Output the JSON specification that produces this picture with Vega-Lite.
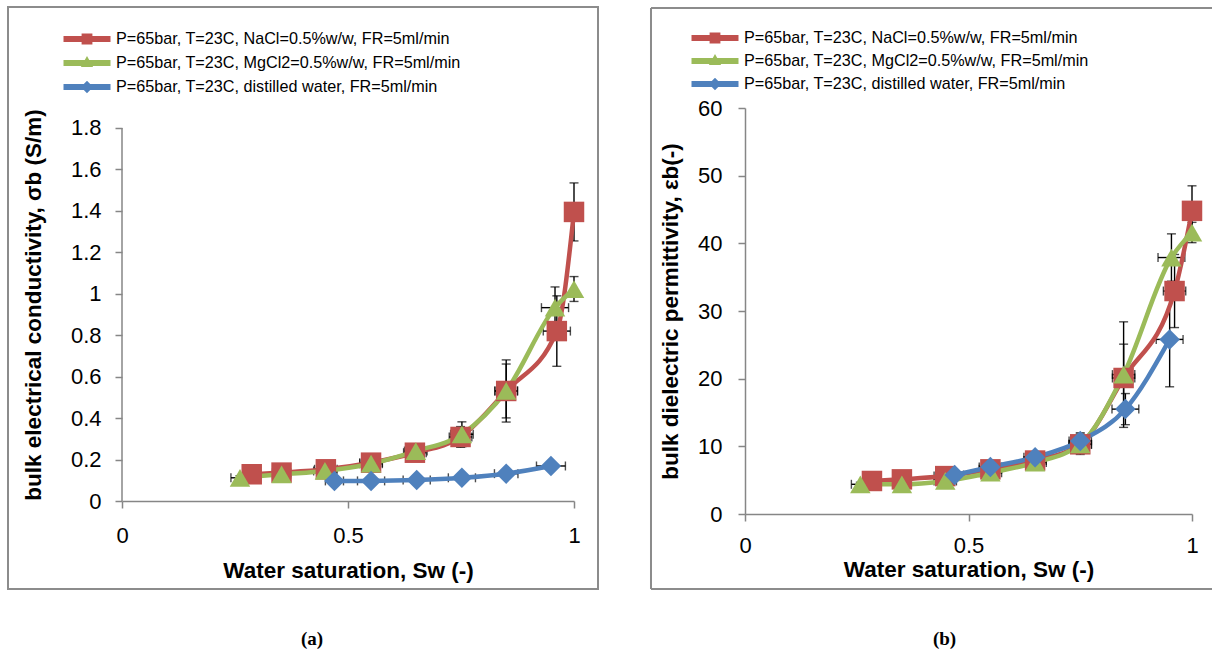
{
  "$schema": "https://vega.github.io/schema/vega-lite/v6.json",
  "background": "white",
  "padding": {"left": 7, "top": 5, "right": 0, "bottom": 0},
  "spacing": 49,
  "datasets": {
    "cond": [
      {"s": "P=65bar, T=23C, NaCl=0.5%w/w, FR=5ml/min", "sw": 0.287, "v": 0.129, "ev": 0.01, "es": 0.02},
      {"s": "P=65bar, T=23C, NaCl=0.5%w/w, FR=5ml/min", "sw": 0.353, "v": 0.137, "ev": 0.01, "es": 0.02},
      {"s": "P=65bar, T=23C, NaCl=0.5%w/w, FR=5ml/min", "sw": 0.451, "v": 0.153, "ev": 0.015, "es": 0.025},
      {"s": "P=65bar, T=23C, NaCl=0.5%w/w, FR=5ml/min", "sw": 0.551, "v": 0.185, "ev": 0.02, "es": 0.025},
      {"s": "P=65bar, T=23C, NaCl=0.5%w/w, FR=5ml/min", "sw": 0.648, "v": 0.233, "ev": 0.03, "es": 0.025},
      {"s": "P=65bar, T=23C, NaCl=0.5%w/w, FR=5ml/min", "sw": 0.749, "v": 0.309, "ev": 0.05, "es": 0.025},
      {"s": "P=65bar, T=23C, NaCl=0.5%w/w, FR=5ml/min", "sw": 0.85, "v": 0.531, "ev": 0.13, "es": 0.025},
      {"s": "P=65bar, T=23C, NaCl=0.5%w/w, FR=5ml/min", "sw": 0.962, "v": 0.82, "ev": 0.17, "es": 0.03},
      {"s": "P=65bar, T=23C, NaCl=0.5%w/w, FR=5ml/min", "sw": 1.0, "v": 1.395, "ev": 0.14, "es": 0},
      {"s": "P=65bar, T=23C, MgCl2=0.5%w/w, FR=5ml/min", "sw": 0.261, "v": 0.112, "ev": 0.01, "es": 0.02},
      {"s": "P=65bar, T=23C, MgCl2=0.5%w/w, FR=5ml/min", "sw": 0.353, "v": 0.129, "ev": 0.01, "es": 0.02},
      {"s": "P=65bar, T=23C, MgCl2=0.5%w/w, FR=5ml/min", "sw": 0.449, "v": 0.145, "ev": 0.015, "es": 0.025},
      {"s": "P=65bar, T=23C, MgCl2=0.5%w/w, FR=5ml/min", "sw": 0.551, "v": 0.18, "ev": 0.02, "es": 0.025},
      {"s": "P=65bar, T=23C, MgCl2=0.5%w/w, FR=5ml/min", "sw": 0.65, "v": 0.241, "ev": 0.03, "es": 0.025},
      {"s": "P=65bar, T=23C, MgCl2=0.5%w/w, FR=5ml/min", "sw": 0.752, "v": 0.322, "ev": 0.06, "es": 0.025},
      {"s": "P=65bar, T=23C, MgCl2=0.5%w/w, FR=5ml/min", "sw": 0.85, "v": 0.531, "ev": 0.15, "es": 0.025},
      {"s": "P=65bar, T=23C, MgCl2=0.5%w/w, FR=5ml/min", "sw": 0.958, "v": 0.933, "ev": 0.1, "es": 0.03},
      {"s": "P=65bar, T=23C, MgCl2=0.5%w/w, FR=5ml/min", "sw": 1.0, "v": 1.023, "ev": 0.06, "es": 0},
      {"s": "P=65bar, T=23C, distilled water, FR=5ml/min", "sw": 0.47, "v": 0.097, "ev": 0.005, "es": 0.02},
      {"s": "P=65bar, T=23C, distilled water, FR=5ml/min", "sw": 0.551, "v": 0.097, "ev": 0.005, "es": 0.03},
      {"s": "P=65bar, T=23C, distilled water, FR=5ml/min", "sw": 0.652, "v": 0.101, "ev": 0.006, "es": 0.03},
      {"s": "P=65bar, T=23C, distilled water, FR=5ml/min", "sw": 0.752, "v": 0.112, "ev": 0.008, "es": 0.03},
      {"s": "P=65bar, T=23C, distilled water, FR=5ml/min", "sw": 0.85, "v": 0.132, "ev": 0.01, "es": 0.026},
      {"s": "P=65bar, T=23C, distilled water, FR=5ml/min", "sw": 0.949, "v": 0.169, "ev": 0.015, "es": 0.032}
    ],
    "perm": [
      {"s": "P=65bar, T=23C, NaCl=0.5%w/w, FR=5ml/min", "sw": 0.284, "v": 4.88, "ev": 0.3, "es": 0.02},
      {"s": "P=65bar, T=23C, NaCl=0.5%w/w, FR=5ml/min", "sw": 0.351, "v": 5.12, "ev": 0.3, "es": 0.02},
      {"s": "P=65bar, T=23C, NaCl=0.5%w/w, FR=5ml/min", "sw": 0.448, "v": 5.6, "ev": 0.4, "es": 0.025},
      {"s": "P=65bar, T=23C, NaCl=0.5%w/w, FR=5ml/min", "sw": 0.549, "v": 6.6, "ev": 0.5, "es": 0.025},
      {"s": "P=65bar, T=23C, NaCl=0.5%w/w, FR=5ml/min", "sw": 0.649, "v": 7.9, "ev": 0.6, "es": 0.025},
      {"s": "P=65bar, T=23C, NaCl=0.5%w/w, FR=5ml/min", "sw": 0.75, "v": 10.3, "ev": 1.2, "es": 0.025},
      {"s": "P=65bar, T=23C, NaCl=0.5%w/w, FR=5ml/min", "sw": 0.847, "v": 20.1, "ev": 5.0, "es": 0.025},
      {"s": "P=65bar, T=23C, NaCl=0.5%w/w, FR=5ml/min", "sw": 0.961, "v": 32.95, "ev": 5.4, "es": 0.025},
      {"s": "P=65bar, T=23C, NaCl=0.5%w/w, FR=5ml/min", "sw": 1.0, "v": 44.8, "ev": 3.7, "es": 0},
      {"s": "P=65bar, T=23C, MgCl2=0.5%w/w, FR=5ml/min", "sw": 0.258, "v": 4.39, "ev": 0.3, "es": 0.02},
      {"s": "P=65bar, T=23C, MgCl2=0.5%w/w, FR=5ml/min", "sw": 0.351, "v": 4.39, "ev": 0.3, "es": 0.02},
      {"s": "P=65bar, T=23C, MgCl2=0.5%w/w, FR=5ml/min", "sw": 0.448, "v": 4.88, "ev": 0.4, "es": 0.025},
      {"s": "P=65bar, T=23C, MgCl2=0.5%w/w, FR=5ml/min", "sw": 0.549, "v": 6.1, "ev": 0.5, "es": 0.025},
      {"s": "P=65bar, T=23C, MgCl2=0.5%w/w, FR=5ml/min", "sw": 0.649, "v": 7.6, "ev": 0.6, "es": 0.025},
      {"s": "P=65bar, T=23C, MgCl2=0.5%w/w, FR=5ml/min", "sw": 0.75, "v": 10.3, "ev": 1.5, "es": 0.025},
      {"s": "P=65bar, T=23C, MgCl2=0.5%w/w, FR=5ml/min", "sw": 0.847, "v": 20.6, "ev": 7.8, "es": 0.025},
      {"s": "P=65bar, T=23C, MgCl2=0.5%w/w, FR=5ml/min", "sw": 0.954, "v": 37.9, "ev": 3.5, "es": 0.03},
      {"s": "P=65bar, T=23C, MgCl2=0.5%w/w, FR=5ml/min", "sw": 1.0, "v": 41.6, "ev": 1.5, "es": 0},
      {"s": "P=65bar, T=23C, distilled water, FR=5ml/min", "sw": 0.469, "v": 5.76, "ev": 0.3, "es": 0.02},
      {"s": "P=65bar, T=23C, distilled water, FR=5ml/min", "sw": 0.549, "v": 6.95, "ev": 0.5, "es": 0.025},
      {"s": "P=65bar, T=23C, distilled water, FR=5ml/min", "sw": 0.649, "v": 8.4, "ev": 0.6, "es": 0.025},
      {"s": "P=65bar, T=23C, distilled water, FR=5ml/min", "sw": 0.75, "v": 10.8, "ev": 1.2, "es": 0.025},
      {"s": "P=65bar, T=23C, distilled water, FR=5ml/min", "sw": 0.851, "v": 15.5, "ev": 2.3, "es": 0.03},
      {"s": "P=65bar, T=23C, distilled water, FR=5ml/min", "sw": 0.95, "v": 25.8, "ev": 7.0, "es": 0.03}
    ]
  },
  "hconcat": [
    {
      "width": 452,
      "height": 393,
      "data": {"name": "cond"},
      "title": {"text": "(a)", "orient": "bottom", "anchor": "middle", "frame": "group", "dx": -36, "offset": 40, "font": "Liberation Serif", "fontSize": 19, "fontWeight": "bold", "color": "black"},
      "resolve": {"scale": {"color": "independent", "shape": "independent"}},
      "layer": [
        {
          "data": {"values": [{}]},
          "mark": {"type": "rect", "fill": "transparent", "stroke": "#8c8c8c", "strokeWidth": 2, "clip": false},
          "encoding": {
            "x": {"datum": -0.2522, "type": "quantitative", "scale": {"domain": [0, 1]}, "title": "Water saturation, Sw (-)"},
            "x2": {"datum": 1.0531},
            "y": {"datum": 2.384, "type": "quantitative", "scale": {"domain": [0, 1.8965], "nice": false}, "title": "bulk electrical conductivity, σb (S/m)"},
            "y2": {"datum": -0.4247}
          }
        },
        {
          "data": {"values": [{}]},
          "mark": {"type": "rule", "stroke": "#868686", "strokeWidth": 1.5},
          "encoding": {
            "x": {"datum": 0, "type": "quantitative", "title": "Water saturation, Sw (-)"},
            "y": {"datum": 0, "type": "quantitative", "title": "bulk electrical conductivity, σb (S/m)"},
            "y2": {"datum": 1.8}
          }
        },
        {
          "mark": {"type": "errorbar", "color": "black", "thickness": 1.4, "ticks": {"size": 9, "thickness": 1.4, "color": "black"}},
          "encoding": {
            "x": {"field": "sw", "type": "quantitative", "title": "Water saturation, Sw (-)"},
            "y": {"field": "v", "type": "quantitative", "title": "bulk electrical conductivity, σb (S/m)"},
            "yError": {"field": "ev"}
          }
        },
        {
          "mark": {"type": "errorbar", "color": "black", "thickness": 1.4, "ticks": {"size": 9, "thickness": 1.4, "color": "black"}},
          "encoding": {
            "x": {"field": "sw", "type": "quantitative", "title": "Water saturation, Sw (-)"},
            "xError": {"field": "es"},
            "y": {"field": "v", "type": "quantitative", "title": "bulk electrical conductivity, σb (S/m)"}
          }
        },
        {
          "mark": {"type": "line", "strokeWidth": 4.5, "interpolate": "monotone"},
          "encoding": {
            "x": {"field": "sw", "type": "quantitative", "title": "Water saturation, Sw (-)", "scale": {"domain": [0, 1]}, "axis": {"values": [0, 0.5, 1], "format": "~g", "labelPadding": 17, "titlePadding": 13}},
            "y": {"field": "v", "type": "quantitative", "title": "bulk electrical conductivity, σb (S/m)", "scale": {"domain": [0, 1.8965], "nice": false}, "axis": {"values": [0, 0.2, 0.4, 0.6, 0.8, 1, 1.2, 1.4, 1.6, 1.8], "format": "~g", "domain": false, "labelPadding": 14, "titlePadding": 25}},
            "color": {"field": "s", "type": "nominal", "scale": {"domain": ["P=65bar, T=23C, NaCl=0.5%w/w, FR=5ml/min", "P=65bar, T=23C, MgCl2=0.5%w/w, FR=5ml/min", "P=65bar, T=23C, distilled water, FR=5ml/min"], "range": ["#C0504D", "#9BBB59", "#4F81BD"]}, "legend": null}
          }
        },
        {
          "mark": {"type": "point", "filled": true, "opacity": 1, "size": 420},
          "encoding": {
            "x": {"field": "sw", "type": "quantitative", "title": "Water saturation, Sw (-)"},
            "y": {"field": "v", "type": "quantitative", "title": "bulk electrical conductivity, σb (S/m)"},
            "color": {"field": "s", "type": "nominal", "scale": {"domain": ["P=65bar, T=23C, NaCl=0.5%w/w, FR=5ml/min", "P=65bar, T=23C, MgCl2=0.5%w/w, FR=5ml/min", "P=65bar, T=23C, distilled water, FR=5ml/min"], "range": ["#C0504D", "#9BBB59", "#4F81BD"]}, "legend": null},
            "shape": {"field": "s", "type": "nominal", "scale": {"domain": ["P=65bar, T=23C, NaCl=0.5%w/w, FR=5ml/min", "P=65bar, T=23C, MgCl2=0.5%w/w, FR=5ml/min", "P=65bar, T=23C, distilled water, FR=5ml/min"], "range": ["square", "triangle-up", "diamond"]}, "legend": null}
          }
        },
        {
          "transform": [{"filter": "false"}],
          "mark": {"type": "point", "filled": true, "opacity": 1},
          "encoding": {
            "color": {"field": "s", "type": "nominal", "scale": {"domain": ["P=65bar, T=23C, NaCl=0.5%w/w, FR=5ml/min", "P=65bar, T=23C, MgCl2=0.5%w/w, FR=5ml/min", "P=65bar, T=23C, distilled water, FR=5ml/min"], "range": ["#C0504D", "#9BBB59", "#4F81BD"]},
              "legend": {"title": null, "orient": "none", "direction": "vertical", "legendX": -47, "legendY": -81, "padding": 0, "symbolSize": 552, "symbolStrokeWidth": 0, "labelFont": "Liberation Sans", "labelFontSize": 16.2, "labelColor": "black", "labelOffset": 17, "labelLimit": 500, "rowPadding": 3}},
            "shape": {"field": "s", "type": "nominal", "scale": {"domain": ["P=65bar, T=23C, NaCl=0.5%w/w, FR=5ml/min", "P=65bar, T=23C, MgCl2=0.5%w/w, FR=5ml/min", "P=65bar, T=23C, distilled water, FR=5ml/min"], "range": ["M-2,-0.26L2,-0.26L2,0.26L-2,0.26ZM-0.46,-0.46L0.46,-0.46L0.46,0.46L-0.46,0.46Z", "M-2,-0.26L2,-0.26L2,0.26L-2,0.26ZM0,-0.6L0.52,0.34L-0.52,0.34Z", "M-2,-0.26L2,-0.26L2,0.26L-2,0.26ZM0,-0.54L0.52,0L0,0.54L-0.52,0Z"]},
              "legend": {"title": null, "orient": "none", "direction": "vertical", "legendX": -47, "legendY": -81, "padding": 0, "symbolSize": 552, "symbolStrokeWidth": 0, "labelFont": "Liberation Sans", "labelFontSize": 16.2, "labelColor": "black", "labelOffset": 17, "labelLimit": 500, "rowPadding": 3}}
          }
        }
      ]
    },
    {
      "width": 447,
      "height": 406,
      "data": {"name": "perm"},
      "title": {"text": "(b)", "orient": "bottom", "anchor": "middle", "frame": "group", "dx": -24, "offset": 40, "font": "Liberation Serif", "fontSize": 19, "fontWeight": "bold", "color": "black"},
      "resolve": {"scale": {"color": "independent", "shape": "independent"}},
      "layer": [
        {
          "data": {"values": [{}]},
          "mark": {"type": "rule", "stroke": "#8c8c8c", "strokeWidth": 2, "clip": false},
          "encoding": {
            "x": {"datum": -0.2103, "type": "quantitative", "scale": {"domain": [0, 1]}, "title": "Water saturation, Sw (-)"},
            "x2": {"datum": 1.047},
            "y": {"datum": 74.78, "type": "quantitative", "scale": {"domain": [0, 60]}, "title": "bulk dielectric permittivity, εb(-)"}
          }
        },
        {
          "data": {"values": [{}]},
          "mark": {"type": "rule", "stroke": "#8c8c8c", "strokeWidth": 2, "clip": false},
          "encoding": {
            "x": {"datum": -0.2103, "type": "quantitative", "title": "Water saturation, Sw (-)"},
            "x2": {"datum": 1.047},
            "y": {"datum": -11.08, "type": "quantitative", "title": "bulk dielectric permittivity, εb(-)"}
          }
        },
        {
          "data": {"values": [{}]},
          "mark": {"type": "rule", "stroke": "#8c8c8c", "strokeWidth": 2, "clip": false},
          "encoding": {
            "x": {"datum": -0.2103, "type": "quantitative", "title": "Water saturation, Sw (-)"},
            "y": {"datum": -11.08, "type": "quantitative", "title": "bulk dielectric permittivity, εb(-)"},
            "y2": {"datum": 74.78}
          }
        },
        {
          "mark": {"type": "errorbar", "color": "black", "thickness": 1.4, "ticks": {"size": 9, "thickness": 1.4, "color": "black"}},
          "encoding": {
            "x": {"field": "sw", "type": "quantitative", "title": "Water saturation, Sw (-)"},
            "y": {"field": "v", "type": "quantitative", "title": "bulk dielectric permittivity, εb(-)"},
            "yError": {"field": "ev"}
          }
        },
        {
          "mark": {"type": "errorbar", "color": "black", "thickness": 1.4, "ticks": {"size": 9, "thickness": 1.4, "color": "black"}},
          "encoding": {
            "x": {"field": "sw", "type": "quantitative", "title": "Water saturation, Sw (-)"},
            "xError": {"field": "es"},
            "y": {"field": "v", "type": "quantitative", "title": "bulk dielectric permittivity, εb(-)"}
          }
        },
        {
          "mark": {"type": "line", "strokeWidth": 4.5, "interpolate": "monotone"},
          "encoding": {
            "x": {"field": "sw", "type": "quantitative", "title": "Water saturation, Sw (-)", "scale": {"domain": [0, 1]}, "axis": {"values": [0, 0.5, 1], "format": "~g", "labelPadding": 14, "titlePadding": 2}},
            "y": {"field": "v", "type": "quantitative", "title": "bulk dielectric permittivity, εb(-)", "scale": {"domain": [0, 60]}, "axis": {"values": [0, 10, 20, 30, 40, 50, 60], "format": "~g", "labelPadding": 16, "titlePadding": 15}},
            "color": {"field": "s", "type": "nominal", "scale": {"domain": ["P=65bar, T=23C, NaCl=0.5%w/w, FR=5ml/min", "P=65bar, T=23C, MgCl2=0.5%w/w, FR=5ml/min", "P=65bar, T=23C, distilled water, FR=5ml/min"], "range": ["#C0504D", "#9BBB59", "#4F81BD"]}, "legend": null}
          }
        },
        {
          "mark": {"type": "point", "filled": true, "opacity": 1, "size": 420},
          "encoding": {
            "x": {"field": "sw", "type": "quantitative", "title": "Water saturation, Sw (-)"},
            "y": {"field": "v", "type": "quantitative", "title": "bulk dielectric permittivity, εb(-)"},
            "color": {"field": "s", "type": "nominal", "scale": {"domain": ["P=65bar, T=23C, NaCl=0.5%w/w, FR=5ml/min", "P=65bar, T=23C, MgCl2=0.5%w/w, FR=5ml/min", "P=65bar, T=23C, distilled water, FR=5ml/min"], "range": ["#C0504D", "#9BBB59", "#4F81BD"]}, "legend": null},
            "shape": {"field": "s", "type": "nominal", "scale": {"domain": ["P=65bar, T=23C, NaCl=0.5%w/w, FR=5ml/min", "P=65bar, T=23C, MgCl2=0.5%w/w, FR=5ml/min", "P=65bar, T=23C, distilled water, FR=5ml/min"], "range": ["square", "triangle-up", "diamond"]}, "legend": null}
          }
        },
        {
          "transform": [{"filter": "false"}],
          "mark": {"type": "point", "filled": true, "opacity": 1},
          "encoding": {
            "color": {"field": "s", "type": "nominal", "scale": {"domain": ["P=65bar, T=23C, NaCl=0.5%w/w, FR=5ml/min", "P=65bar, T=23C, MgCl2=0.5%w/w, FR=5ml/min", "P=65bar, T=23C, distilled water, FR=5ml/min"], "range": ["#C0504D", "#9BBB59", "#4F81BD"]},
              "legend": {"title": null, "orient": "none", "direction": "vertical", "legendX": -42, "legendY": -82, "padding": 0, "symbolSize": 552, "symbolStrokeWidth": 0, "labelFont": "Liberation Sans", "labelFontSize": 16.2, "labelColor": "black", "labelOffset": 17, "labelLimit": 500, "rowPadding": 2}},
            "shape": {"field": "s", "type": "nominal", "scale": {"domain": ["P=65bar, T=23C, NaCl=0.5%w/w, FR=5ml/min", "P=65bar, T=23C, MgCl2=0.5%w/w, FR=5ml/min", "P=65bar, T=23C, distilled water, FR=5ml/min"], "range": ["M-2,-0.26L2,-0.26L2,0.26L-2,0.26ZM-0.46,-0.46L0.46,-0.46L0.46,0.46L-0.46,0.46Z", "M-2,-0.26L2,-0.26L2,0.26L-2,0.26ZM0,-0.6L0.52,0.34L-0.52,0.34Z", "M-2,-0.26L2,-0.26L2,0.26L-2,0.26ZM0,-0.54L0.52,0L0,0.54L-0.52,0Z"]},
              "legend": {"title": null, "orient": "none", "direction": "vertical", "legendX": -42, "legendY": -82, "padding": 0, "symbolSize": 552, "symbolStrokeWidth": 0, "labelFont": "Liberation Sans", "labelFontSize": 16.2, "labelColor": "black", "labelOffset": 17, "labelLimit": 500, "rowPadding": 2}}
          }
        }
      ]
    }
  ],
  "resolve": {"scale": {"color": "independent", "shape": "independent"}},
  "config": {
    "view": {"stroke": null},
    "font": "Liberation Sans",
    "axis": {
      "grid": false,
      "domainColor": "#868686",
      "domainWidth": 1.5,
      "tickColor": "#868686",
      "tickWidth": 1.5,
      "tickSize": 7,
      "labelFlush": false,
      "labelFont": "Liberation Sans",
      "labelFontSize": 22,
      "labelColor": "black",
      "titleFont": "Liberation Sans",
      "titleFontSize": 22.5,
      "titleFontWeight": "bold",
      "titleColor": "black"
    }
  }
}
